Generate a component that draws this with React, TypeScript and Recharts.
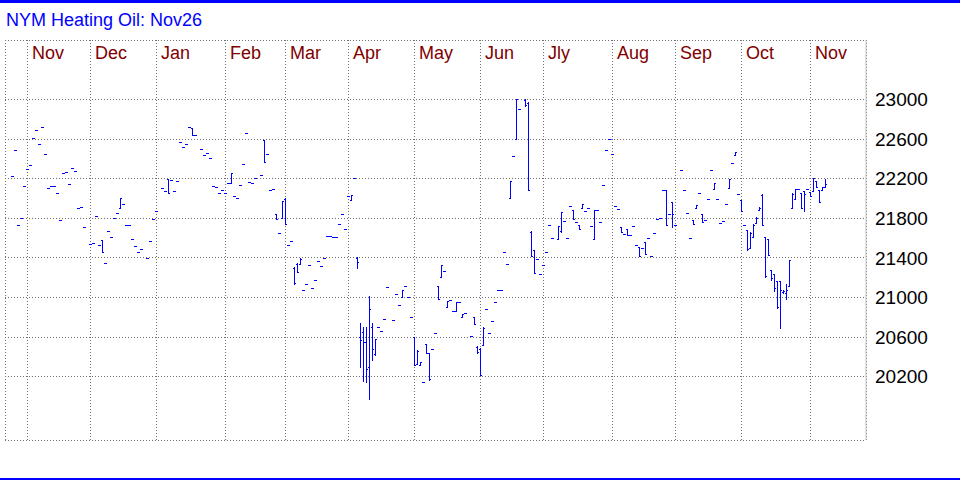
import React from 'react';
import { ComposedChart, Bar, XAxis, YAxis, CartesianGrid, ReferenceArea } from 'recharts';

const TITLE = 'NYM Heating Oil: Nov26';
const FONT = '"Liberation Sans", Arial, Helvetica, sans-serif';

// weekday slots on the x axis (one per session)
const SLOT_COUNT = 287;
const monthStarts = [7, 28, 50, 73, 93, 114, 136, 158, 179, 202, 223, 245, 268];
const monthLabels = ['Nov', 'Dec', 'Jan', 'Feb', 'Mar', 'Apr', 'May', 'Jun', 'Jly', 'Aug', 'Sep', 'Oct', 'Nov'];

const priceTicks = [20200, 20600, 21000, 21400, 21800, 22200, 22600, 23000];
const minorTicks = [
  20000, 20100, 20200, 20300, 20400, 20500, 20600, 20700, 20800, 20900, 21000, 21100, 21200, 21300, 21400,
  21500, 21600, 21700, 21800, 21900, 22000, 22100, 22200, 22300, 22400, 22500, 22600, 22700, 22800, 22900, 23000,
];
const priceDomain = [19560, 23600];

// sessions with a single traded price: [day, price]
const flatSessions: number[][] = [
  [2, 22230], [3, 22490], [4, 21730], [5, 21800], [6, 22130], [7, 22300], [8, 22340], [9, 22610], [10, 22690],
  [11, 22550], [12, 22720], [13, 22450], [14, 22110], [15, 22130], [16, 22130], [17, 22050], [18, 21780],
  [19, 22260], [20, 22270], [21, 22150], [22, 22310], [23, 22280], [24, 21900], [25, 21910], [26, 21710],
  [28, 21540], [29, 21550], [30, 21820], [31, 21530], [33, 21350], [34, 21670], [35, 21610], [36, 21800],
  [37, 21850], [39, 21940], [40, 21730], [41, 21730], [42, 21590], [43, 21520], [44, 21460], [45, 21490],
  [47, 21400], [48, 21570], [49, 21790], [50, 21870], [52, 22110], [53, 22070], [55, 22190], [56, 22070],
  [57, 22180], [58, 22570], [59, 22520], [60, 22550], [61, 22720], [63, 22640], [65, 22500], [66, 22440],
  [67, 22460], [68, 22410], [69, 22130], [70, 22120], [71, 22050], [72, 22090], [73, 22050], [74, 22160],
  [76, 22020], [77, 22000], [78, 22140], [79, 22350], [80, 22660], [81, 22170], [82, 22160], [83, 22210],
  [85, 22240], [87, 22450], [88, 22080], [89, 22100], [91, 21650], [94, 21530], [95, 21570], [99, 21080],
  [100, 21140], [101, 21330], [102, 21100], [103, 21180], [104, 21370], [105, 21320], [106, 21400],
  [107, 21620], [108, 21620], [109, 21610], [110, 21610], [111, 21740], [112, 21840], [113, 21690],
  [114, 22020], [116, 22210], [124, 20700], [125, 20660], [126, 20780], [127, 21110], [129, 20770],
  [130, 21030], [131, 20920], [133, 21120], [134, 21000], [135, 20800], [139, 20150], [142, 20480],
  [143, 20640], [146, 21270], [148, 20970], [149, 20860], [151, 20950], [153, 20840], [155, 20610],
  [160, 20880], [161, 20640], [162, 20760], [163, 20950], [164, 21080], [165, 21080], [166, 21460],
  [167, 21340], [169, 22430], [171, 22900], [177, 21390], [178, 21240], [179, 21330], [180, 21460],
  [181, 21730], [182, 21600], [186, 21770], [187, 21600], [188, 21920], [190, 21760], [193, 21870],
  [194, 21900], [195, 21720], [197, 21880], [198, 21760], [199, 22140], [200, 22490], [201, 22600],
  [202, 22450], [203, 21920], [204, 21890], [206, 21640], [208, 21630], [209, 21720], [210, 21530],
  [212, 21500], [214, 21600], [215, 21420], [216, 21650], [217, 21790], [218, 21800], [219, 22080],
  [221, 21840], [223, 21730], [225, 22290], [226, 22080], [227, 21850], [228, 21600], [231, 22050],
  [233, 21780], [234, 21990], [235, 22290], [237, 21990], [238, 21750], [239, 21770], [240, 21940],
  [242, 22360], [244, 22040], [246, 21730], [264, 22100], [267, 22100],
];

// sessions with a range: [day, open, high, low, close]
const rangeSessions: number[][] = [
  [32, 21580, 21580, 21460, 21460], [38, 21900, 22000, 21900, 22000], [54, 22200, 22200, 22050, 22050],
  [62, 22710, 22710, 22640, 22640], [75, 22160, 22260, 22160, 22260], [86, 22590, 22590, 22370, 22370],
  [90, 21840, 21840, 21790, 21790], [92, 21800, 21970, 21800, 21970], [93, 21990, 22000, 21740, 21740],
  [96, 21300, 21310, 21140, 21150], [97, 21340, 21350, 21260, 21260], [98, 21340, 21400, 21340, 21390],
  [115, 21980, 22030, 21980, 22030], [117, 21400, 21410, 21300, 21360], [118, 20600, 20740, 20300, 20570],
  [119, 20650, 20700, 20160, 20550], [120, 20550, 20700, 20150, 20280], [121, 20300, 21010, 19970, 20880],
  [122, 20700, 20740, 20370, 20480], [123, 20430, 20580, 20420, 20580], [132, 21000, 21070, 21000, 21070],
  [136, 20600, 20600, 20320, 20320], [137, 20330, 20470, 20330, 20460], [138, 20320, 20350, 20320, 20350],
  [140, 20530, 20530, 20440, 20440], [141, 20440, 20440, 20170, 20180], [144, 21120, 21120, 20980, 20980],
  [145, 21210, 21330, 21210, 21330], [147, 20900, 20960, 20900, 20960], [150, 20860, 20950, 20860, 20950],
  [152, 20800, 20830, 20800, 20830], [156, 20800, 20800, 20730, 20730], [157, 20500, 20510, 20440, 20450],
  [158, 20480, 20490, 20220, 20220], [159, 20520, 20700, 20520, 20690], [168, 22000, 22180, 22000, 22180],
  [170, 22600, 23000, 22600, 23000], [173, 22990, 23000, 22930, 22940], [174, 22960, 22970, 22090, 22090],
  [175, 21660, 21670, 21420, 21420], [176, 21480, 21480, 21250, 21250], [184, 21590, 21720, 21590, 21720],
  [185, 21670, 21860, 21660, 21860], [189, 21880, 21880, 21790, 21790], [191, 21730, 21730, 21690, 21690],
  [192, 21900, 21940, 21900, 21940], [196, 21590, 21880, 21590, 21880], [205, 21710, 21710, 21660, 21660],
  [207, 21690, 21690, 21630, 21630], [211, 21510, 21510, 21420, 21420], [213, 21560, 21560, 21440, 21440],
  [220, 22080, 22080, 21730, 21730], [222, 21960, 21960, 21710, 21840], [229, 21780, 21780, 21740, 21740],
  [230, 21900, 21930, 21900, 21930], [232, 21840, 21840, 21760, 21760], [236, 22100, 22160, 22100, 22160],
  [241, 22110, 22200, 22110, 22200], [243, 22440, 22470, 22440, 22470], [245, 21980, 21980, 21870, 21870],
  [247, 21680, 21680, 21480, 21490], [248, 21500, 21660, 21500, 21650], [249, 21610, 21740, 21610, 21730],
  [250, 21750, 21810, 21750, 21800], [251, 21880, 21910, 21880, 21900], [252, 22030, 22040, 21730, 21730],
  [253, 21610, 21610, 21210, 21220], [254, 21590, 21590, 21430, 21430], [255, 21280, 21280, 21180, 21200],
  [256, 21240, 21240, 21060, 21100], [257, 21170, 21170, 20890, 20900], [258, 21170, 21170, 20690, 21070],
  [259, 21050, 21070, 21040, 21060], [260, 21040, 21140, 20980, 21080], [261, 21120, 21380, 21120, 21380],
  [262, 21900, 22050, 21900, 22040], [263, 21990, 22100, 21990, 22100], [265, 22050, 22050, 21900, 21900],
  [266, 22070, 22070, 21870, 22040], [268, 22060, 22060, 22020, 22020], [269, 22070, 22210, 22070, 22210],
  [270, 22180, 22180, 22120, 22120], [271, 22090, 22090, 21960, 21960], [272, 22080, 22120, 22080, 22120],
  [273, 22120, 22200, 22120, 22150],
];

type Row = { day: number; open: number | null; high: number | null; low: number | null; close: number | null };

const rows: Row[] = Array.from({ length: SLOT_COUNT }, (_, day) => ({ day, open: null, high: null, low: null, close: null }));
flatSessions.forEach(([d, v]) => Object.assign(rows[d], { open: v, high: v, low: v, close: v }));
rangeSessions.forEach(([d, o, h, l, c]) => Object.assign(rows[d], { open: o, high: h, low: l, close: c }));

const rangeOf = (r: Row) => (r.high == null ? null : [r.low, r.high]);

const BAR_COLOR = '#0000ff';

const OhlcShape = (props: any) => {
  const { x, y, width, height, payload } = props;
  if (!payload || payload.high == null || x == null || y == null) return null;
  const { open, high, low, close } = payload;
  const h = height || 0;
  const pHigh = Math.min(y, y + h);
  const pLow = Math.max(y, y + h);
  const span = high - low;
  const toPx = (v: number) => (span > 0 ? pHigh + ((high - v) / span) * (pLow - pHigh) : pHigh);
  const cx = Math.floor(x + width / 2);
  const top = Math.round(toPx(high));
  const bottom = Math.round(toPx(low));
  const yo = Math.round(toPx(open));
  const yc = Math.round(toPx(close));
  return (
    <g fill={BAR_COLOR}>
      <rect x={cx} y={top} width={1} height={Math.max(1, bottom - top + 1)} />
      <rect x={cx - 1} y={yo} width={1} height={1} />
      <rect x={cx + 1} y={yc} width={1} height={1} />
    </g>
  );
};

const renderMonthTick = (props: any) => {
  const { x, y, payload, index } = props;
  let idx = monthStarts.indexOf(Number(payload?.value));
  if (idx < 0 && typeof index === 'number') idx = index;
  if (idx < 0 || idx >= monthLabels.length || x == null) return <g />;
  const top = typeof y === 'number' && !isNaN(y) ? y : 40;
  return (
    <text x={x + 4.5} y={top + 19.3} fill="#800000" fontSize={18} fontFamily={FONT} textAnchor="start">
      {monthLabels[idx]}
    </text>
  );
};

export default function App() {
  return (
    <div style={{ position: 'absolute', left: 0, top: 0, width: 960, height: 480, background: '#ffffff', overflow: 'hidden' }}>
      <div style={{ position: 'absolute', left: 0, top: 0, width: 960, height: 3, background: BAR_COLOR }} />
      <div
        style={{
          position: 'absolute',
          left: 6,
          top: 10,
          fontFamily: FONT,
          fontSize: 18,
          lineHeight: '20px',
          color: BAR_COLOR,
          whiteSpace: 'nowrap',
        }}
      >
        {TITLE}
      </div>
      <div style={{ position: 'absolute', left: 0, top: 0 }}>
        <ComposedChart
          width={960}
          height={480}
          data={rows}
          margin={{ top: 20, right: 0, bottom: 40, left: 5 }}
          barCategoryGap={0}
          barGap={0}
        >
          <XAxis
            xAxisId="months"
            dataKey="day"
            type="category"
            orientation="top"
            height={20}
            ticks={monthStarts}
            interval={0}
            axisLine={false}
            tickLine={false}
            tickSize={0}
            tickMargin={0}
            tick={renderMonthTick}
          />
          <XAxis
            xAxisId="base"
            dataKey="day"
            type="category"
            orientation="bottom"
            height={0}
            tick={false}
            tickLine={false}
            axisLine={{ stroke: '#c0c0c0' }}
          />
          <YAxis
            yAxisId="minor"
            orientation="right"
            width={0}
            type="number"
            domain={priceDomain}
            allowDataOverflow
            ticks={minorTicks}
            interval={0}
            mirror
            tick={false}
            tickSize={3}
            tickLine={{ stroke: '#808080' }}
            axisLine={false}
          />
          <YAxis
            yAxisId="price"
            orientation="right"
            width={94}
            type="number"
            domain={priceDomain}
            allowDataOverflow
            ticks={priceTicks}
            interval={0}
            tickLine={false}
            tickSize={0}
            tickMargin={9}
            axisLine={{ stroke: '#c0c0c0' }}
            tick={{ fill: '#000000', fontSize: 19, fontFamily: FONT }}
          />
          <CartesianGrid
            xAxisId="months"
            yAxisId="price"
            stroke="#707070"
            strokeDasharray="1 2"
            shapeRendering="crispEdges"
          />
          <ReferenceArea
            xAxisId="months"
            yAxisId="price"
            fill="none"
            fillOpacity={0}
            stroke="#a8a8a8"
            strokeDasharray="1 2"
            shapeRendering="crispEdges"
          />
          <Bar
            xAxisId="months"
            yAxisId="price"
            dataKey={rangeOf as any}
            shape={<OhlcShape />}
            isAnimationActive={false}
          />
        </ComposedChart>
      </div>
      <div style={{ position: 'absolute', left: 0, top: 478, width: 960, height: 2, background: BAR_COLOR }} />
    </div>
  );
}
